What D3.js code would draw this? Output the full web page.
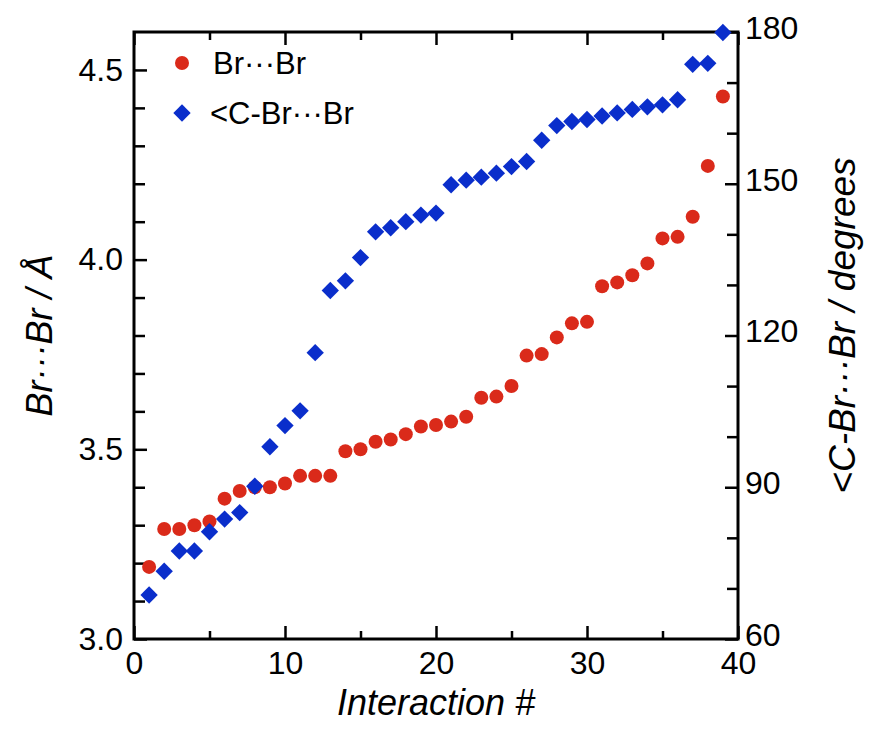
<!DOCTYPE html>
<html>
<head>
<meta charset="utf-8">
<script src="https://cdn.jsdelivr.net/npm/d3@7"></script>
<style>
  body { margin: 0; background: #fff; }
  text { font-family: "Liberation Sans", Arial, Helvetica, sans-serif; }
</style>
</head>
<body>
<div id="chart"></div>
<script>
// Interaction index
const interactions = d3.range(1, 40);

// Br...Br distance (Å), left axis
const brDist = [3.19, 3.29, 3.29, 3.30, 3.31, 3.37, 3.39, 3.40, 3.40, 3.41,
                3.43, 3.43, 3.43, 3.495, 3.50, 3.52, 3.526, 3.54, 3.56, 3.564,
                3.573, 3.586, 3.636, 3.639, 3.667, 3.747, 3.751, 3.795, 3.832, 3.836,
                3.93, 3.94, 3.959, 3.99, 4.056, 4.06, 4.113, 4.247, 4.43];

// <C-Br...Br angle (degrees), right axis
const cbrAngle = [68.7, 73.4, 77.4, 77.4, 81.2, 83.7, 85.0, 90.2, 98.0, 102.2,
                  105.1, 116.6, 128.9, 130.8, 135.4, 140.5, 141.3, 142.5, 143.8, 144.2,
                  149.8, 150.7, 151.3, 152.1, 153.4, 154.4, 158.6, 161.5, 162.3, 162.7,
                  163.4, 164.0, 164.7, 165.2, 165.6, 166.6, 173.6, 173.8, 179.9];

const xMajor = [0, 10, 20, 30, 40];
const xMinor = [5, 15, 25, 35];
const yLeftMajor = [3.0, 3.5, 4.0, 4.5];
const yLeftMinor = [3.1, 3.2, 3.3, 3.4, 3.6, 3.7, 3.8, 3.9, 4.1, 4.2, 4.3, 4.4];
const yRightMajor = [60, 90, 120, 150, 180];
const yRightMinor = [70, 80, 100, 110, 130, 140, 160, 170];

const width = 870, height = 747;
const plot = { left: 134, right: 738, top: 32, bottom: 639 };

const red = '#da2a1a';
const blue = '#0a2ecb';

const svg = d3.select('#chart').append('svg')
  .attr('width', width)
  .attr('height', height);

const x = d3.scaleLinear().domain([0, 40]).range([plot.left, plot.right]);
const yL = d3.scaleLinear().domain([3.0, 4.6]).range([plot.bottom, plot.top]);
const yR = d3.scaleLinear().domain([60, 180]).range([plot.bottom, plot.top]);

// Axes (ticks point inward)
function styleAxis(g) {
  g.select('.domain').remove();
  g.selectAll('.tick line').attr('stroke', '#000').attr('stroke-width', 2.5);
  g.selectAll('.tick text').attr('font-size', 32).attr('fill', '#000')
    .attr('font-family', '"Liberation Sans", Arial, sans-serif');
}

svg.append('g').attr('transform', `translate(0,${plot.bottom})`)
  .call(d3.axisBottom(x).tickValues(xMajor).tickSize(-13).tickPadding(12).tickFormat(d3.format('d')))
  .call(styleAxis);
svg.append('g').attr('transform', `translate(0,${plot.bottom})`)
  .call(d3.axisBottom(x).tickValues(xMinor).tickSize(-8).tickFormat(''))
  .call(styleAxis);
svg.append('g').attr('transform', `translate(0,${plot.top})`)
  .call(d3.axisTop(x).tickValues(xMajor).tickSize(-13).tickFormat(''))
  .call(styleAxis);
svg.append('g').attr('transform', `translate(0,${plot.top})`)
  .call(d3.axisTop(x).tickValues(xMinor).tickSize(-8).tickFormat(''))
  .call(styleAxis);

svg.append('g').attr('transform', `translate(${plot.left},0)`)
  .call(d3.axisLeft(yL).tickValues(yLeftMajor).tickSize(-13).tickPadding(11).tickFormat(d3.format('.1f')))
  .call(styleAxis);
svg.append('g').attr('transform', `translate(${plot.left},0)`)
  .call(d3.axisLeft(yL).tickValues(yLeftMinor).tickSize(-11).tickFormat(''))
  .call(styleAxis);

svg.append('g').attr('transform', `translate(${plot.right},0)`)
  .call(d3.axisRight(yR).tickValues(yRightMajor).tickSize(-13).tickPadding(7).tickFormat(d3.format('d')))
  .call(styleAxis)
  .call(g => g.selectAll('.tick text').attr('dy', '0.2em'));
svg.append('g').attr('transform', `translate(${plot.right},0)`)
  .call(d3.axisRight(yR).tickValues(yRightMinor).tickSize(-11).tickFormat(''))
  .call(styleAxis);

// Frame
svg.append('rect')
  .attr('x', plot.left).attr('y', plot.top)
  .attr('width', plot.right - plot.left).attr('height', plot.bottom - plot.top)
  .attr('fill', 'none').attr('stroke', '#000').attr('stroke-width', 3);

// Markers
const diamond = d3.symbol().type(d3.symbolSquare).size(150);

svg.append('g').selectAll('circle')
  .data(interactions)
  .join('circle')
  .attr('cx', d => x(d))
  .attr('cy', (d, i) => yL(brDist[i]))
  .attr('r', 7)
  .attr('fill', red);

svg.append('g').selectAll('path')
  .data(interactions)
  .join('path')
  .attr('d', diamond)
  .attr('transform', (d, i) => `translate(${x(d)},${yR(cbrAngle[i])}) rotate(45)`)
  .attr('fill', blue);

// Legend
const legend = svg.append('g');
legend.append('circle').attr('cx', 182).attr('cy', 63).attr('r', 7).attr('fill', red);
legend.append('text').attr('x', 213).attr('y', 63).attr('dy', '0.35em')
  .attr('font-size', 31).text('Br\u00B7\u00B7\u00B7Br');
legend.append('path').attr('d', diamond)
  .attr('transform', 'translate(182,113) rotate(45)').attr('fill', blue);
legend.append('text').attr('x', 210).attr('y', 113).attr('dy', '0.35em')
  .attr('font-size', 31).text('<C-Br\u00B7\u00B7\u00B7Br');

// Axis titles
svg.append('text')
  .attr('x', (plot.left + plot.right) / 2).attr('y', 715)
  .attr('text-anchor', 'middle')
  .attr('font-size', 36).attr('font-style', 'italic')
  .text('Interaction #');

svg.append('text')
  .attr('transform', `translate(52,${(plot.top + plot.bottom) / 2}) rotate(-90)`)
  .attr('text-anchor', 'middle')
  .attr('font-size', 36).attr('font-style', 'italic')
  .text('Br\u00B7\u00B7\u00B7Br / \u00C5');

svg.append('text')
  .attr('transform', `translate(855,${(plot.top + plot.bottom) / 2 - 10}) rotate(-90)`)
  .attr('text-anchor', 'middle')
  .attr('font-size', 37).attr('font-style', 'italic')
  .text('<C-Br\u00B7\u00B7\u00B7Br / degrees');
</script>
</body>
</html>
